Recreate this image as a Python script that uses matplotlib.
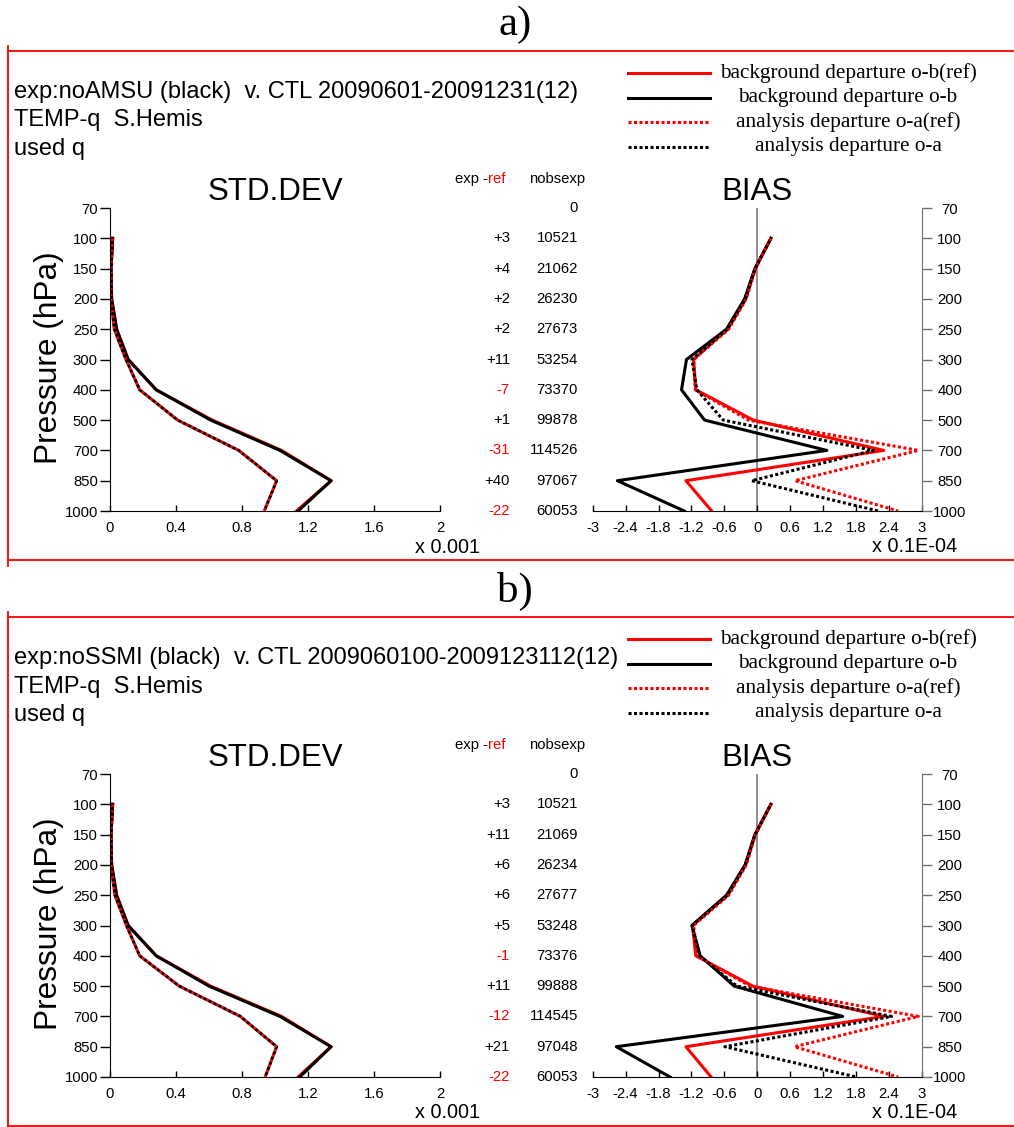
import numpy as np
import matplotlib
matplotlib.use('Agg')
import matplotlib.pyplot as plt
from matplotlib.lines import Line2D

# уровни давления (hPa), рисуются равномерно сверху вниз
levels = [70, 100, 150, 200, 250, 300, 400, 500, 700, 850, 1000]

# ---- эксперимент a) noAMSU ----
a_header = ['exp:noAMSU (black)  v. CTL 20090601-20091231(12)', 'TEMP-q  S.Hemis', 'used q']
a_std_ob_ref = [0.016, 0.006, 0.010, 0.040, 0.110, 0.280, 0.620, 1.040, 1.340, 1.130]
a_std_ob = [0.016, 0.006, 0.010, 0.040, 0.110, 0.280, 0.610, 1.030, 1.340, 1.140]
a_std_oa_ref = [0.016, 0.006, 0.006, 0.026, 0.097, 0.180, 0.410, 0.780, 1.010, 0.935]
a_std_oa = [0.016, 0.006, 0.006, 0.026, 0.097, 0.180, 0.410, 0.780, 1.010, 0.935]
a_bias_ob_ref = [0.25, -0.04, -0.22, -0.55, -1.16, -1.12, -0.07, 2.31, -1.30, -0.83]
a_bias_ob = [0.25, -0.04, -0.23, -0.56, -1.29, -1.38, -0.96, 1.27, -2.55, -1.33]
a_bias_oa_ref = [0.25, -0.03, -0.20, -0.52, -1.16, -1.13, -0.16, 2.94, 0.69, 2.57]
a_bias_oa = [0.25, -0.04, -0.21, -0.54, -1.19, -1.10, -0.62, 2.12, -0.10, 2.21]
a_diff = [3, 4, 2, 2, 11, -7, 1, -31, 40, -22]
a_nobs = [0, 10521, 21062, 26230, 27673, 53254, 73370, 99878, 114526, 97067, 60053]

# ---- эксперимент b) noSSMI ----
b_header = ['exp:noSSMI (black)  v. CTL 2009060100-2009123112(12)', 'TEMP-q  S.Hemis', 'used q']
b_std_ob_ref = [0.016, 0.006, 0.010, 0.040, 0.110, 0.280, 0.610, 1.040, 1.340, 1.140]
b_std_ob = [0.016, 0.006, 0.010, 0.040, 0.110, 0.280, 0.600, 1.030, 1.340, 1.150]
b_std_oa_ref = [0.016, 0.006, 0.006, 0.030, 0.100, 0.180, 0.420, 0.790, 1.010, 0.940]
b_std_oa = [0.016, 0.006, 0.006, 0.030, 0.100, 0.180, 0.420, 0.790, 1.010, 0.940]
b_bias_ob_ref = [0.25, -0.04, -0.22, -0.55, -1.18, -1.12, -0.08, 2.31, -1.30, -0.84]
b_bias_ob = [0.25, -0.04, -0.22, -0.56, -1.19, -1.04, -0.42, 1.56, -2.57, -1.59]
b_bias_oa_ref = [0.25, -0.03, -0.20, -0.52, -1.16, -1.10, -0.13, 2.94, 0.68, 2.57]
b_bias_oa = [0.25, -0.04, -0.21, -0.54, -1.19, -1.05, -0.37, 2.45, -0.59, 1.81]
b_diff = [3, 11, 6, 6, 5, -1, 11, -12, 21, -22]
b_nobs = [0, 10521, 21069, 26234, 27677, 53248, 73376, 99888, 114545, 97048, 60053]

std_ticks = [0, 0.4, 0.8, 1.2, 1.6, 2]
std_ticklabels = ['0', '0.4', '0.8', '1.2', '1.6', '2']
bias_ticks = [-3, -2.4, -1.8, -1.2, -0.6, 0, 0.6, 1.2, 1.8, 2.4, 3]
bias_ticklabels = ['-3', '-2.4', '-1.8', '-1.2', '-0.6', '0', '0.6', '1.2', '1.8', '2.4', '3']
legend_labels = ['background departure o-b(ref)', 'background departure o-b',
                 'analysis departure o-a(ref)', 'analysis departure o-a']

W, H = 1014, 1127
SANS = 'Liberation Sans'
SERIF = 'Liberation Serif'
LW = 2.2
DOT = (0, (1, 0.8))

fig = plt.figure(figsize=(W / 100, H / 100), dpi=100)


def box(x0, y0, x1, y1):
    # прямоугольник в пикселях -> доли фигуры
    return [x0 / W, 1 - y1 / H, (x1 - x0) / W, (y1 - y0) / H]


def fx(x):
    return x / W


def fy(y):
    return 1 - y / H


def profiles(ax, ob_ref, ob, oa_ref, oa):
    y = np.arange(1, len(levels))
    ax.plot(ob_ref, y, color='red', lw=LW)
    ax.plot(ob, y, color='black', lw=LW)
    ax.plot(oa_ref, y, color='red', lw=LW, linestyle=DOT)
    ax.plot(oa, y, color='black', lw=LW, linestyle=(0.9, (1, 0.8)))


def draw_panel(off, tag, header, std, bias, diff, nobs):
    fig.text(fx(515), fy(25 + off), tag, fontsize=31, family=SERIF, ha='center', va='center')

    # красная рамка
    fig.add_artist(Line2D([fx(8), fx(8)], [fy(46 + off), fy(566 + off)], color='red', lw=1.3))
    fig.add_artist(Line2D([fx(8), fx(1014)], [fy(51 + off), fy(51 + off)], color='red', lw=1.3))
    fig.add_artist(Line2D([fx(8), fx(1014)], [fy(560 + off), fy(560 + off)], color='red', lw=1.3))

    for i, line in enumerate(header):
        fig.text(fx(14), fy(92 + 28.5 * i + off), line, fontsize=17, family=SANS, va='center')

    # легенда
    leg = fig.add_axes(box(600, 58 + off, 1014, 158 + off))
    leg.set_xlim(0, 414)
    leg.set_ylim(100, 0)
    leg.axis('off')
    styles = [('red', '-'), ('black', '-'), ('red', DOT), ('black', DOT)]
    for i, (lab, (c, ls)) in enumerate(zip(legend_labels, styles)):
        yy = 15 + 24.5 * i
        leg.plot([28, 110], [yy, yy], color=c, lw=LW, linestyle=ls)
        leg.text(248, yy, lab, fontsize=15.3, family=SERIF, ha='center', va='center')

    # STD.DEV
    ax = fig.add_axes(box(110, 208 + off, 440, 511 + off))
    profiles(ax, *std)
    ax.set_xlim(0, 2)
    ax.set_ylim(len(levels) - 1, 0)
    ax.set_xticks(std_ticks)
    ax.set_xticklabels(std_ticklabels, family=SANS, fontsize=10.7)
    ax.set_yticks(range(len(levels)))
    ax.set_yticklabels([str(v) for v in levels], family=SANS, fontsize=10.7)
    ax.tick_params(axis='x', direction='in', length=4.5, width=1, pad=7)
    ax.tick_params(axis='y', direction='out', length=7.2, width=1, pad=1.5)
    for s in ['top', 'right']:
        ax.spines[s].set_visible(False)
    ax.set_title('STD.DEV', fontsize=22.5, family=SANS, pad=6)
    fig.text(fx(49), fy(358 + off), 'Pressure (hPa)', fontsize=22.8, family=SANS,
             rotation=90, ha='center', va='center')
    fig.text(fx(480), fy(547 + off), 'x 0.001', fontsize=14.3, family=SANS, ha='right', va='center')

    # колонки exp-ref и nobsexp
    tr = ax.get_yaxis_transform()
    ref_t = ax.text(1.197, -0.97, 'ref', color='red', fontsize=10.7, family=SANS,
                    ha='right', va='center', transform=tr)
    ax.annotate('exp -', xy=(0, 0.5), xycoords=ref_t, fontsize=10.7, family=SANS,
                ha='right', va='center')
    ax.text(1.439, -0.97, 'nobsexp', fontsize=10.7, family=SANS, ha='right', va='center', transform=tr)
    for i, n in enumerate(nobs):
        ax.text(1.418, i, str(n), fontsize=10.7, family=SANS, ha='right', va='center', transform=tr)
    for i, d in enumerate(diff):
        ax.text(1.212, i + 1, '%+d' % d, color='red' if d < 0 else 'black', fontsize=10.7,
                family=SANS, ha='right', va='center', transform=tr)

    # BIAS
    bx = fig.add_axes(box(592.7, 208 + off, 921.7, 511 + off))
    profiles(bx, *bias)
    bx.axvline(0, color='#707070', lw=1.1, zorder=1)
    bx.set_xlim(-3, 3)
    bx.set_ylim(len(levels) - 1, 0)
    bx.set_xticks(bias_ticks)
    bx.set_xticklabels(bias_ticklabels, family=SANS, fontsize=10.7)
    bx.yaxis.tick_right()
    bx.set_yticks(range(len(levels)))
    bx.set_yticklabels([str(v) for v in levels], family=SANS, fontsize=10.7, ha='center')
    bx.tick_params(axis='x', direction='in', length=4.5, width=1, pad=7)
    bx.tick_params(axis='y', direction='out', length=7.2, width=1, pad=13, color='#707070')
    for s in ['top', 'left']:
        bx.spines[s].set_visible(False)
    bx.spines['right'].set_color('#707070')
    bx.set_title('BIAS', fontsize=22.5, family=SANS, pad=6)
    fig.text(fx(957), fy(546 + off), 'x 0.1E-04', fontsize=14.3, family=SANS, ha='right', va='center')


draw_panel(0, 'a)', a_header,
           (a_std_ob_ref, a_std_ob, a_std_oa_ref, a_std_oa),
           (a_bias_ob_ref, a_bias_ob, a_bias_oa_ref, a_bias_oa),
           a_diff, a_nobs)
draw_panel(566, 'b)', b_header,
           (b_std_ob_ref, b_std_ob, b_std_oa_ref, b_std_oa),
           (b_bias_ob_ref, b_bias_ob, b_bias_oa_ref, b_bias_oa),
           b_diff, b_nobs)

fig.savefig('out.png', dpi=100)
